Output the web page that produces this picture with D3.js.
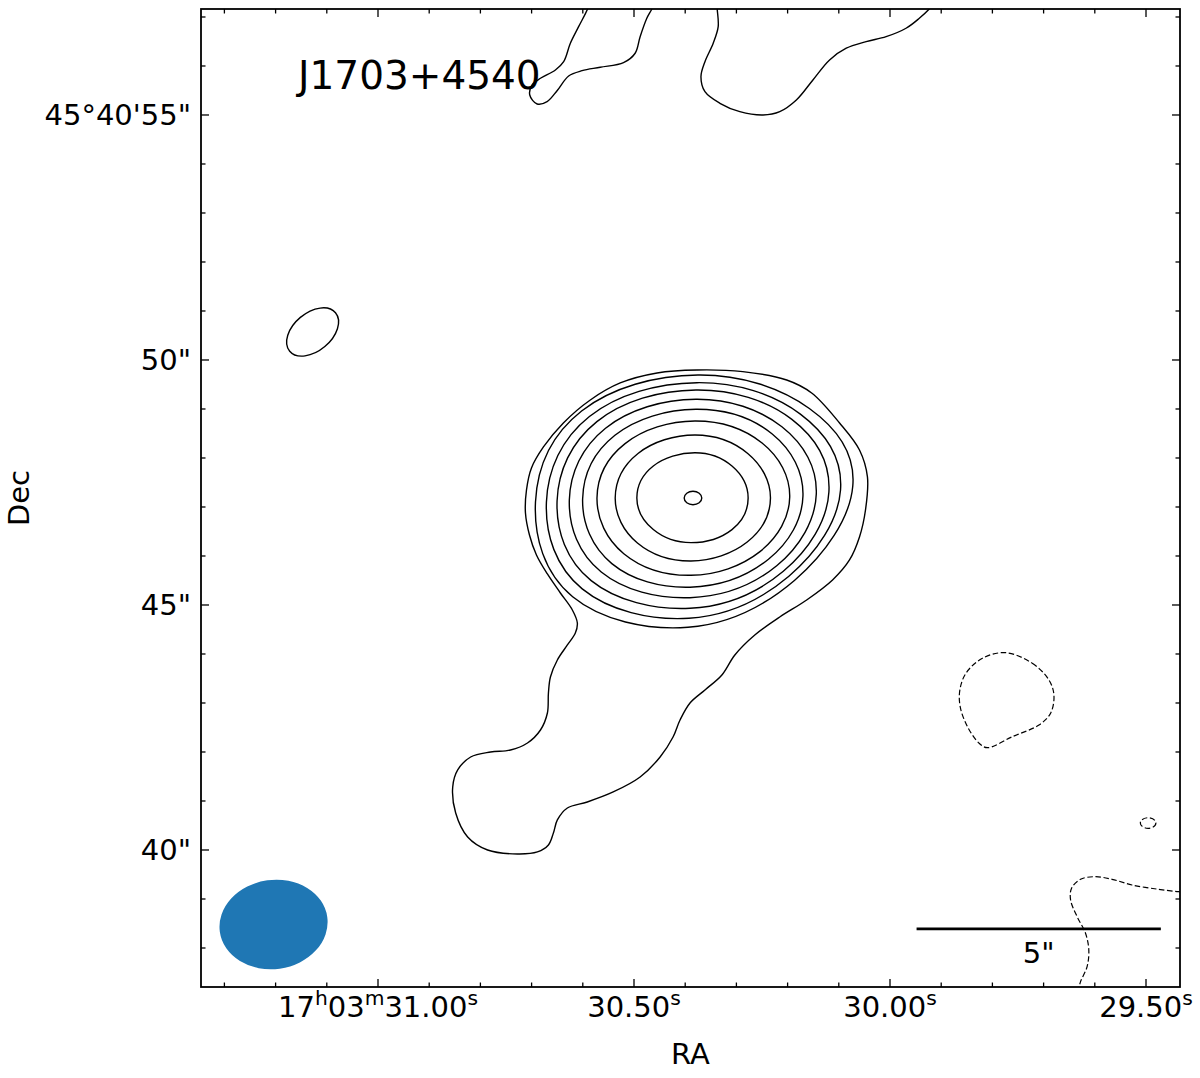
<!DOCTYPE html>
<html><head><meta charset="utf-8">
<script src="https://cdn.jsdelivr.net/npm/d3@7"></script>
<style>
body{margin:0;background:#fff}
svg{display:block}
text{font-family:"DejaVu Sans",sans-serif;fill:#000}
</style>
</head><body>
<svg id="c" width="1200" height="1078"></svg>
<script>
// ---------------- data ----------------
const title = "J1703+4540";
const xLabel = "RA";
const yLabel = "Dec";
// axis limits: RA seconds of 17h03m, Dec arcsec of +45°40'
const raLimits = [31.3457, 29.4336];
const decLimits = [37.204, 57.163];
const raMajorTicks = [31.00, 30.50, 30.00, 29.50];
const raMajorLabels = ["17^h03^m31.00^s", "30.50^s", "30.00^s", "29.50^s"];
const raMinorTicks = [31.3, 31.2, 31.1, 30.9, 30.8, 30.7, 30.6, 30.4, 30.3, 30.2, 30.1, 29.9, 29.8, 29.7, 29.6];
const decMajorTicks = [40, 45, 50, 55];
const decMajorLabels = ['40"', '45"', '50"', "45°40'55\""];
const decMinorTicks = [38, 39, 41, 42, 43, 44, 46, 47, 48, 49, 51, 52, 53, 54, 56, 57];
const decDegrees = 45 + 40 / 60 + 47 / 3600;

// source core position (RA s, Dec ")
const core = { ra: 30.3848, dec: 47.184 };

// contours: offsets from core in arcsec [x toward west(right), y north]
const coreRing = { dx: 0, dy: 0, a: 0.18, b: 0.137, angle: 0 };
const rings = [
  [[1.129,0],[0.798,0.653],[0.041,0.924],[-0.812,0.653],[-1.149,0],[-0.812,-0.645],[-0.041,-0.912],[0.798,-0.645]],
  [[1.586,0],[1.121,0.909],[0.041,1.286],[-1.125,0.909],[-1.592,0],[-1.137,-0.918],[-0.041,-1.286],[1.110,-0.900]],
  [[1.980,0.020],[1.414,1.122],[0.041,1.571],[-1.390,1.110],[-1.965,0],[-1.416,-1.137],[-0.041,-1.578],[1.371,-1.094]],
  [[2.251,0.041],[1.622,1.306],[0.061,1.810],[-1.598,1.280],[-2.259,-0.020],[-1.661,-1.339],[-0.061,-1.822],[1.545,-1.251]],
  [[2.524,0.082],[1.820,1.453],[0.061,2.014],[-1.790,1.424],[-2.531,-0.041],[-1.878,-1.510],[-0.061,-2.035],[1.714,-1.382]],
  [[2.782,0.122],[2.024,1.604],[0.061,2.204],[-1.967,1.559],[-2.782,-0.061],[-2.084,-1.686],[-0.061,-2.251],[1.849,-1.496]],
  [[3.020,0.163],[2.198,1.712],[0.082,2.353],[-2.120,1.663],[-3.000,-0.082],[-2.267,-1.855],[-0.082,-2.455],[1.963,-1.596]],
  [[3.271,0.245],[2.382,1.827],[0.102,2.510],[-2.280,1.776],[-3.224,-0.082],[-2.463,-2.016],[-0.102,-2.639],[2.082,-1.678]]
];
const outerContour = [
  [-0.735,2.551],[0.082,2.612],[1.020,2.578],[1.918,2.408],[2.429,2.143],[3.0,1.531],[3.408,0.980],[3.571,0.429],
  [3.531,-0.245],[3.408,-0.796],[3.204,-1.265],[2.857,-1.673],[2.327,-2.082],[1.776,-2.429],[1.265,-2.796],[0.857,-3.204],
  [0.592,-3.612],[0.245,-3.918],[-0.061,-4.184],[-0.265,-4.531],[-0.408,-4.878],[-0.673,-5.286],[-1.082,-5.694],[-1.633,-6.0],
  [-2.163,-6.204],[-2.571,-6.327],[-2.776,-6.571],[-2.857,-6.837],[-2.959,-7.082],[-3.184,-7.224],[-3.592,-7.265],[-4.204,-7.184],
  [-4.612,-6.918],[-4.857,-6.429],[-4.918,-5.898],[-4.816,-5.551],[-4.551,-5.286],[-4.143,-5.184],[-3.735,-5.143],[-3.388,-5.0],
  [-3.122,-4.735],[-2.980,-4.388],[-2.959,-3.980],[-2.918,-3.653],[-2.776,-3.306],[-2.571,-3.0],[-2.408,-2.755],[-2.367,-2.551],
  [-2.469,-2.286],[-2.714,-1.939],[-2.980,-1.551],[-3.204,-1.163],[-3.347,-0.755],[-3.429,-0.306],[-3.408,0.163],[-3.306,0.612],
  [-3.061,1.041],[-2.653,1.531],[-2.102,2.0],[-1.490,2.347]
];
const topContourA = [
  [-2.112,10.122],[-2.157,9.980],[-2.341,9.618],[-2.510,9.280],[-2.647,8.904],[-2.816,8.735],[-3.122,8.565],[-3.292,8.429],
  [-3.341,8.224],[-3.190,8.041],[-2.986,8.088],[-2.782,8.312],[-2.545,8.612],[-2.271,8.720],[-1.898,8.790],[-1.422,8.884],
  [-1.184,9.076],[-1.082,9.414],[-0.945,9.790],[-0.843,9.980],[-0.796,10.122]
];
const topContourB = [
  [0.490,10.122],[0.496,9.980],[0.516,9.618],[0.414,9.280],[0.245,8.904],[0.163,8.598],[0.245,8.292],[0.551,8.055],
  [0.959,7.884],[1.435,7.816],[1.776,7.884],[2.116,8.122],[2.455,8.531],[2.796,8.939],[3.137,9.178],[3.545,9.312],
  [3.953,9.414],[4.361,9.586],[4.633,9.790],[4.837,9.980],[4.959,10.122]
];
const leftBlob = { dx: -7.786, dy: 3.388, a: 0.612, b: 0.388, angle: 40 };
// negative (dashed) contours
const negContourA = [
  [6.402,-3.157],[6.945,-3.373],[7.286,-3.714],[7.388,-4.020],[7.320,-4.394],[7.082,-4.633],[6.537,-4.871],[6.027,-5.096],
  [5.857,-5.006],[5.618,-4.667],[5.469,-4.259],[5.463,-3.918],[5.586,-3.578],[5.924,-3.271]
];
const negContourB = [
  [10.143,-8.041],[9.939,-8.035],[9.531,-7.986],[8.986,-7.898],[8.578,-7.782],[8.239,-7.729],[7.933,-7.782],[7.749,-7.965],
  [7.729,-8.204],[7.863,-8.545],[8.035,-8.884],[8.102,-9.224],[8.067,-9.565],[7.933,-9.871],[7.878,-10.082]
];
const negSmall = { dx: 9.316, dy: -6.633, a: 0.159, b: 0.108, angle: 0 };
// restoring beam (absolute position), arcsec
const beam = { ra: 31.204, dec: 38.48, bmaj: 2.22, bmin: 1.82, angle: 8 };
// scale bar
const scaleBar = { raEnd: 29.471, dec: 38.39, length: 5, label: '5"' };

// ---------------- drawing ----------------
const svg = d3.select("#c");
const plot = { left: 201, right: 1180, top: 9, bottom: 987 };
const x = d3.scaleLinear().domain(raLimits).range([plot.left, plot.right]);
const y = d3.scaleLinear().domain(decLimits).range([plot.bottom, plot.top]);
const sPerArcsec = 1 / (15 * Math.cos(decDegrees * Math.PI / 180));
const pxPerArcsecX = Math.abs(x(0) - x(sPerArcsec));
const pxPerArcsecY = Math.abs(y(1) - y(0));
const toPx = d => [x(core.ra - d[0] * sPerArcsec), y(core.dec + d[1])];

svg.append("defs").append("clipPath").attr("id", "clip")
  .append("rect").attr("x", plot.left).attr("y", plot.top)
  .attr("width", plot.right - plot.left).attr("height", plot.bottom - plot.top);

const g = svg.append("g").attr("clip-path", "url(#clip)");
const ringLine = d3.line().curve(d3.curveCardinalClosed.tension(-0.124));
const closedLine = d3.line().curve(d3.curveCatmullRomClosed.alpha(0.5));
const openLine = d3.line().curve(d3.curveCatmullRom.alpha(0.5));
const solid = { stroke: "#000", "stroke-width": 1.4, fill: "none" };
const dashed = { stroke: "#000", "stroke-width": 1.2, fill: "none", "stroke-dasharray": "5.5,2.6" };
function styled(sel, st) { Object.entries(st).forEach(([k, v]) => sel.attr(k, v)); return sel; }

// beam
g.append("ellipse")
  .attr("cx", x(beam.ra)).attr("cy", y(beam.dec))
  .attr("rx", beam.bmaj / 2 * pxPerArcsecX).attr("ry", beam.bmin / 2 * pxPerArcsecY)
  .attr("transform", `rotate(${-beam.angle},${x(beam.ra)},${y(beam.dec)})`)
  .attr("fill", "#1f77b4");

rings.forEach(r => styled(g.append("path"), solid).attr("d", ringLine(r.map(toPx))));
styled(g.append("path"), solid).attr("d", closedLine(outerContour.map(toPx)));
styled(g.append("path"), solid).attr("d", openLine(topContourA.map(toPx)));
styled(g.append("path"), solid).attr("d", openLine(topContourB.map(toPx)));
styled(g.append("path"), dashed).attr("d", closedLine(negContourA.map(toPx)));
styled(g.append("path"), dashed).attr("d", openLine(negContourB.map(toPx)));

function drawEllipse(e, st) {
  const [cx, cy] = toPx([e.dx, e.dy]);
  styled(g.append("ellipse"), st).attr("cx", cx).attr("cy", cy)
    .attr("rx", e.a * pxPerArcsecX).attr("ry", e.b * pxPerArcsecY)
    .attr("transform", `rotate(${-e.angle},${cx},${cy})`);
}
drawEllipse(coreRing, solid);
drawEllipse(leftBlob, solid);
drawEllipse(negSmall, dashed);

// scale bar
const sbX1 = x(scaleBar.raEnd + scaleBar.length * sPerArcsec), sbX2 = x(scaleBar.raEnd), sbY = y(scaleBar.dec);
svg.append("line").attr("x1", sbX1).attr("x2", sbX2).attr("y1", sbY).attr("y2", sbY)
  .attr("stroke", "#000").attr("stroke-width", 2.6);
svg.append("text").attr("x", (sbX1 + sbX2) / 2).attr("y", sbY + 34)
  .attr("text-anchor", "middle").attr("font-size", 29).text(scaleBar.label);

// title
svg.append("text").attr("x", 298).attr("y", 89).attr("font-size", 39).text(title);

// ticks
const ax = svg.append("g").attr("stroke", "#000").attr("stroke-width", 1.3);
const majorLen = 8, minorLen = 4.5;
function xTick(v, len) {
  ax.append("line").attr("x1", x(v)).attr("x2", x(v)).attr("y1", plot.bottom).attr("y2", plot.bottom - len);
  ax.append("line").attr("x1", x(v)).attr("x2", x(v)).attr("y1", plot.top).attr("y2", plot.top + len);
}
function yTick(v, len) {
  ax.append("line").attr("y1", y(v)).attr("y2", y(v)).attr("x1", plot.left).attr("x2", plot.left + len);
  ax.append("line").attr("y1", y(v)).attr("y2", y(v)).attr("x1", plot.right).attr("x2", plot.right - len);
}
raMajorTicks.forEach(v => xTick(v, majorLen));
raMinorTicks.forEach(v => xTick(v, minorLen));
decMajorTicks.forEach(v => yTick(v, majorLen));
decMinorTicks.forEach(v => yTick(v, minorLen));

svg.append("rect").attr("x", plot.left).attr("y", plot.top)
  .attr("width", plot.right - plot.left).attr("height", plot.bottom - plot.top)
  .attr("fill", "none").attr("stroke", "#000").attr("stroke-width", 1.8);

// tick labels
function addLabel(sel, str) {
  const parts = str.split(/(\^.)/).filter(s => s.length);
  let sup = false;
  parts.forEach(p => {
    if (p[0] === "^") { sel.append("tspan").attr("font-size", 20.3).attr("dy", -12).text(p[1]); sup = true; }
    else { const t = sel.append("tspan").text(p); if (sup) { t.attr("dy", 12); sup = false; } }
  });
}
raMajorTicks.forEach((v, i) => {
  const t = svg.append("text").attr("x", x(v)).attr("y", 1017).attr("text-anchor", "middle").attr("font-size", 29);
  addLabel(t, raMajorLabels[i]);
});
decMajorTicks.forEach((v, i) => {
  svg.append("text").attr("x", 191).attr("y", y(v) + 10.5).attr("text-anchor", "end")
    .attr("font-size", 29).text(decMajorLabels[i]);
});

svg.append("text").attr("x", (plot.left + plot.right) / 2).attr("y", 1064)
  .attr("text-anchor", "middle").attr("font-size", 29).text(xLabel);
svg.append("text").attr("transform", `translate(29,${(plot.top + plot.bottom) / 2}) rotate(-90)`)
  .attr("text-anchor", "middle").attr("font-size", 29).text(yLabel);
</script>
</body></html>
